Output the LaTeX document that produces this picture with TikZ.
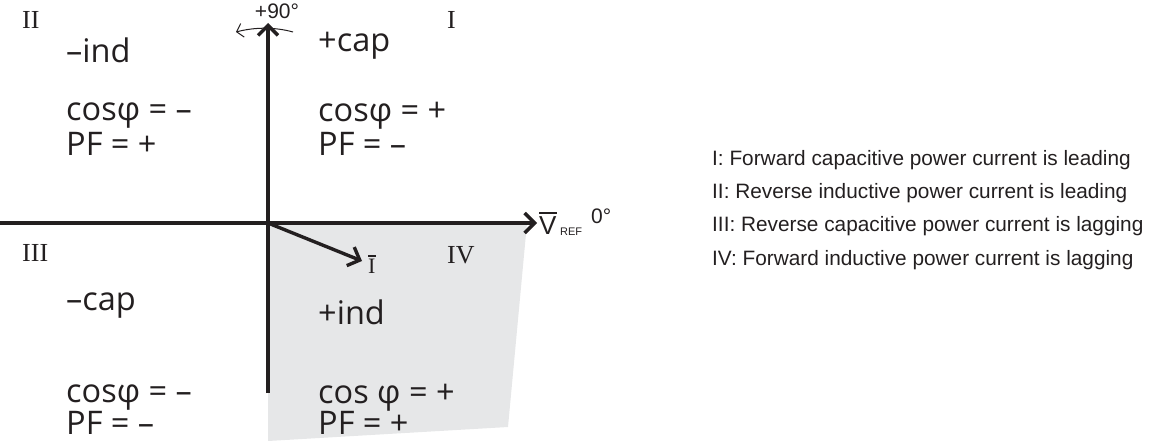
\documentclass[tikz,border=0pt]{standalone}
\usepackage{fontspec}
\setmainfont{Liberation Serif}
\newfontfamily\quadfont{Open Sans}
\newfontfamily\arialfont{Liberation Sans}
\newfontfamily\romfont{Liberation Serif}
\usetikzlibrary{arrows.meta}
\definecolor{gshade}{HTML}{E6E7E8}
\definecolor{ink}{HTML}{231F20}
\begin{document}
\begin{tikzpicture}[x=1pt,y=-1pt,
  qtext/.style={anchor=west,inner sep=0pt,font=\quadfont\fontsize{32.5}{34}\selectfont,text=ink},
  rom/.style={anchor=west,inner sep=0pt,font=\romfont\fontsize{26}{28}\selectfont,text=ink},
  legend/.style={anchor=west,inner sep=0pt,font=\arialfont\fontsize{20.8}{24}\selectfont,text=ink},
  lab/.style={inner sep=0pt,font=\arialfont\fontsize{21}{23}\selectfont,text=ink},
  axis/.style={line width=3.4pt,draw=ink,-{Straight Barb[length=10pt,width=20pt,line width=3.4pt]}}]
\useasboundingbox (0,0) rectangle (1150,441);
% shaded quadrant
\fill[gshade] (268,223) -- (527,223) -- (508,427) -- (268,441) -- cycle;
% coordinates
\coordinate (O) at (268,223);
\coordinate (L) at (0,223);
\coordinate (R) at (537,223);
\coordinate (B) at (268,393);
\coordinate (T) at (268,23);
\coordinate (Itip) at (362,261);
\coordinate (arcR) at (293,32);
\coordinate (arcL) at (236,32);
% axes
\draw[axis] (L) -- (R);
\draw[axis] (B) -- (T);
\draw[axis] (O) -- (Itip);
\draw[ink,line width=1pt,-{Straight Barb[length=6pt,width=14pt,line width=1pt]}] (arcR) .. controls (275,27) and (255,27) .. (arcL);
% axis labels
\node[lab,anchor=south] (p90) at (277,19) {+90°};
\node[inner sep=0pt,anchor=west,font=\arialfont\fontsize{26}{28}\selectfont,text=ink] (vref) at (539,226) {V};
\draw[ink,line width=2.4pt] ([yshift=4pt]vref.north west) -- ([yshift=4pt]vref.north east);
\node[lab,anchor=west,font=\arialfont\fontsize{11}{12}\selectfont] (ref) at (560,232) {REF};
\node[lab,anchor=west] (zero) at (591,216) {0°};
\node[inner sep=0pt,anchor=west,font=\romfont\fontsize{22}{24}\selectfont,text=ink] (ilab) at (368,266) {I};
\draw[ink,line width=2pt] ([yshift=3pt]ilab.north west) -- ([yshift=3pt]ilab.north east);
% roman numerals
\node[rom] (q2) at (22,20) {II};
\node[rom] (q1) at (447,20) {I};
\node[rom] (q3) at (22,253) {III};
\node[rom] (q4) at (447,255) {IV};
% quadrant texts
\node[qtext] (t2a) at (66,50) {–ind};
\node[qtext] (t2b) at (66,116) {cosφ = –};
\node[qtext] (t2c) at (66,144) {PF = +};
\node[qtext] (t1a) at (318,46) {+cap};
\node[qtext] (t1b) at (318,116) {cosφ = +};
\node[qtext] (t1c) at (318,144) {PF = –};
\node[qtext] (t3a) at (66,306) {–cap};
\node[qtext] (t3b) at (66,398) {cosφ = –};
\node[qtext] (t3c) at (66,423) {PF = –};
\node[qtext] (t4a) at (318,312) {+ind};
\node[qtext] (t4b) at (318,398) {cos φ = +};
\node[qtext] (t4c) at (318,423) {PF = +};
% legend
\node[legend] (l1) at (712,160) {I: Forward capacitive power current is leading};
\node[legend] (l2) at (712,193) {II: Reverse inductive power current is leading};
\node[legend] (l3) at (712,226) {III: Reverse capacitive power current is lagging};
\node[legend] (l4) at (712,260) {IV: Forward inductive power current is lagging};
\end{tikzpicture}
\end{document}
